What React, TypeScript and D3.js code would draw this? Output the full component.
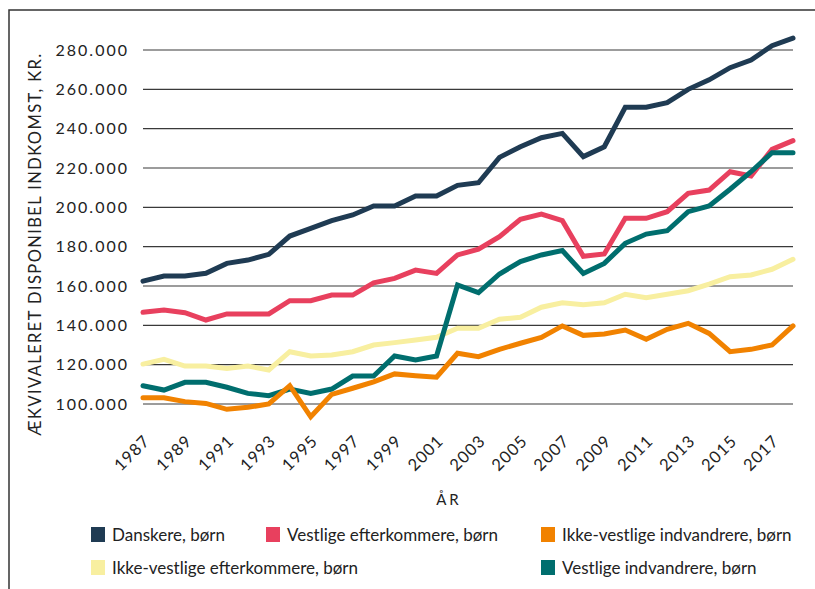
import { useEffect, useRef } from "react";
import * as d3 from "d3";

const years = d3.range(1987, 2019);

const danskere = [
  162500, 165100, 165100, 166500, 171500, 173200, 176100, 185400, 189300, 193200,
  196100, 200700, 200700, 205800, 205800, 211200, 212500, 225400, 230800, 235400,
  237600, 225800, 230800, 250900, 250900, 253200, 260000, 264800, 271000, 274900,
  282200, 286000,
];
const vestligeEfterkommere = [
  146600, 147800, 146400, 142700, 145800, 145800, 145800, 152500, 152500, 155400,
  155400, 161600, 163900, 168100, 166400, 175800, 178700, 185100, 193900, 196600,
  193200, 175100, 176300, 194400, 194400, 197800, 207100, 208800, 218100, 215900,
  229500, 233900,
];
const ikkeVestligeIndvandrere = [
  103200, 103200, 101200, 100300, 97300, 98300, 100000, 109300, 93500, 104900,
  108000, 111300, 115300, 114400, 113600, 125800, 124100, 127800, 130900, 133900,
  139700, 134900, 135600, 137600, 132900, 138000, 141000, 135900, 126600, 127800,
  130000, 139700,
];
const ikkeVestligeEfterkommere = [
  120300, 122700, 119300, 119300, 118100, 119300, 117300, 126600, 124400, 124900,
  126600, 130000, 131200, 132500, 133900, 138500, 138500, 143100, 144100, 149200,
  151500, 150500, 151500, 155800, 154100, 155800, 157600, 161000, 164700, 165600,
  168500, 173600,
];
const vestligeIndvandrere = [
  109300, 107100, 111000, 111000, 108500, 105400, 104200, 107600, 105400, 107600,
  114200, 114200, 124400, 122400, 124400, 160500, 156600, 166100, 172400, 175800,
  178000, 166400, 171500, 181700, 186400, 188100, 197800, 200700, 209200, 218100,
  227800, 227800,
];

const series = [
  { name: "Danskere, børn", values: danskere, color: "#1f3b53" },
  { name: "Vestlige efterkommere, børn", values: vestligeEfterkommere, color: "#e8405e" },
  { name: "Ikke-vestlige indvandrere, børn", values: ikkeVestligeIndvandrere, color: "#f18200" },
  { name: "Ikke-vestlige efterkommere, børn", values: ikkeVestligeEfterkommere, color: "#f8efa0" },
  { name: "Vestlige indvandrere, børn", values: vestligeIndvandrere, color: "#006e6e" },
];

const yTicks = d3.range(100000, 280001, 20000);
const xTicks = d3.range(1987, 2018, 2);

// back to front
const drawOrder = [0, 1, 3, 4, 2];
// legend slots: [column, row]
const legendSlots = [[0, 0], [1, 0], [2, 0], [0, 1], [2, 1]];

const FONT = "Lato, 'Open Sans', sans-serif";

export default function App() {
  const ref = useRef<SVGSVGElement>(null);

  useEffect(() => {
    const svg = d3.select(ref.current);
    svg.selectAll("*").remove();

    const x = d3.scaleLinear().domain([1987, 2018]).range([143, 793]);
    const y = d3.scaleLinear().domain([100000, 280000]).range([404, 50]);
    const fmt = (v: number) => d3.format(",")(v).replace(/,/g, ".");

    // frame
    svg.append("path")
      .attr("d", "M9,589 L9,10 L815,10")
      .attr("fill", "none")
      .attr("stroke", "#333")
      .attr("stroke-width", 1.5);

    svg.append("g")
      .selectAll("line")
      .data(yTicks)
      .join("line")
      .attr("x1", x(1987))
      .attr("x2", x(2018))
      .attr("y1", (d) => y(d))
      .attr("y2", (d) => y(d))
      .attr("stroke", "#3a3a3a")
      .attr("stroke-width", 1.2);

    svg.append("g")
      .selectAll("text")
      .data(yTicks)
      .join("text")
      .attr("x", 129)
      .attr("y", (d) => y(d))
      .attr("dy", "0.36em")
      .attr("text-anchor", "end")
      .attr("font-family", FONT)
      .attr("font-size", 16)
      .attr("letter-spacing", 2)
      .attr("fill", "#222")
      .text(fmt);

    svg.append("g")
      .selectAll("text")
      .data(xTicks)
      .join("text")
      .attr("transform", (d) => `translate(${x(d) + 8},442) rotate(-45)`)
      .attr("text-anchor", "end")
      .attr("font-family", FONT)
      .attr("font-size", 16.5)
      .attr("letter-spacing", 1)
      .attr("fill", "#222")
      .text((d) => d);

    svg.append("text")
      .attr("transform", "translate(41,244) rotate(-90)")
      .attr("text-anchor", "middle")
      .attr("font-family", FONT)
      .attr("font-size", 16.5)
      .attr("letter-spacing", 1.4)
      .attr("fill", "#222")
      .text("ÆKVIVALERET DISPONIBEL INDKOMST, KR.");

    svg.append("text")
      .attr("x", 449)
      .attr("y", 505)
      .attr("text-anchor", "middle")
      .attr("font-family", FONT)
      .attr("font-size", 15)
      .attr("letter-spacing", 3)
      .attr("fill", "#222")
      .text("ÅR");

    const line = d3.line<number>()
      .x((_, i) => x(years[i]))
      .y((d) => y(d));

    svg.append("g")
      .selectAll("path")
      .data(drawOrder.map((i) => series[i]))
      .join("path")
      .attr("d", (s) => line(s.values))
      .attr("fill", "none")
      .attr("stroke", (s) => s.color)
      .attr("stroke-width", 5)
      .attr("stroke-linecap", "round");

    const colX = [91, 266, 541];
    const rowY = [527, 560];
    const legend = svg.append("g")
      .selectAll("g")
      .data(series)
      .join("g")
      .attr("transform", (_, i) => `translate(${colX[legendSlots[i][0]]},${rowY[legendSlots[i][1]]})`);
    legend.append("rect")
      .attr("width", 14)
      .attr("height", 15)
      .attr("fill", (s) => s.color);
    legend.append("text")
      .attr("x", 21)
      .attr("y", 14)
      .attr("font-family", FONT)
      .attr("font-size", 17)
      .attr("fill", "#222")
      .text((s) => s.name);
  }, []);

  return (
    <svg
      ref={ref}
      width={815}
      height={589}
      style={{ position: "absolute", left: 0, top: 0, background: "#fff" }}
    />
  );
}
